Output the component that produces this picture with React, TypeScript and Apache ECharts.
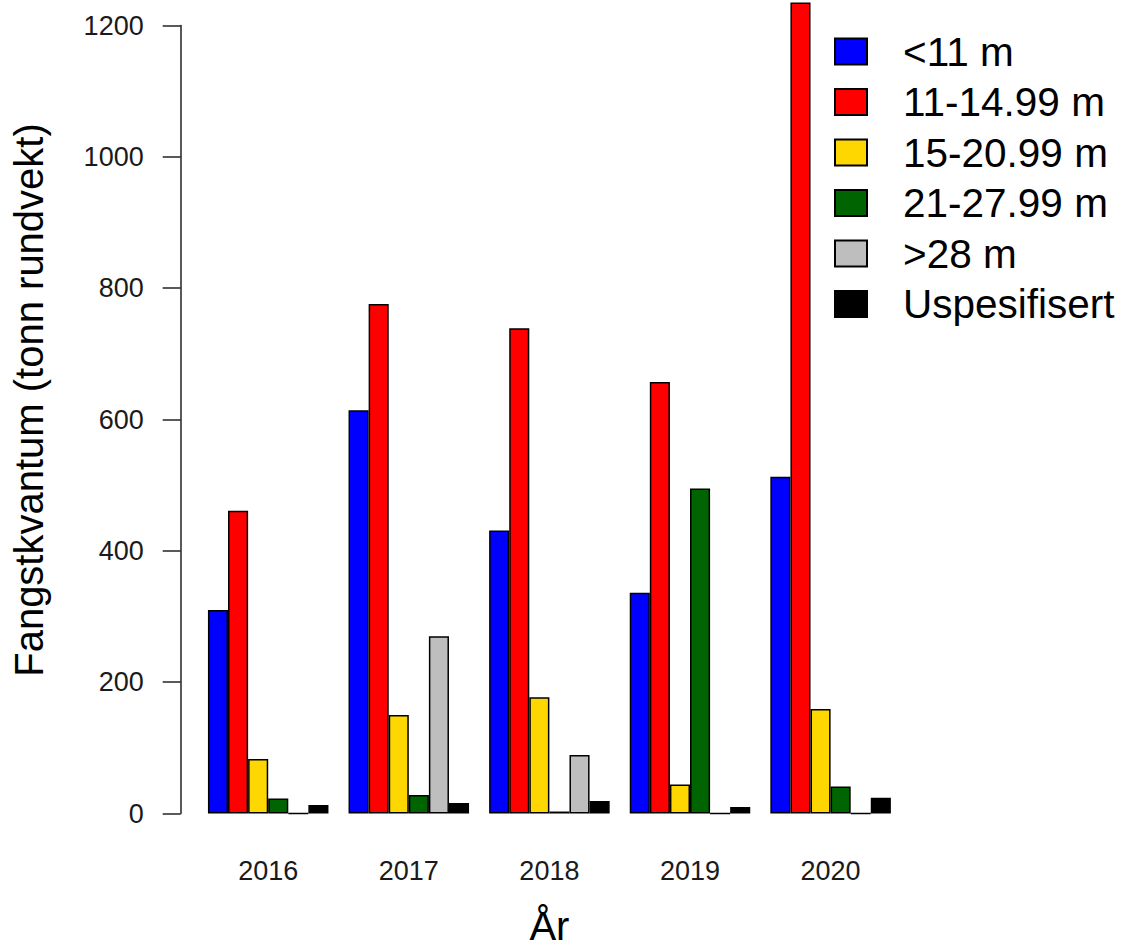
import React, { useEffect, useRef } from "react";
import * as echarts from "echarts";

const years = ["2016", "2017", "2018", "2019", "2020"];
const seriesNames = ["<11 m", "11-14.99 m", "15-20.99 m", "21-27.99 m", ">28 m", "Uspesifisert"];
const under11 = [310, 614, 431, 336, 513];
const m11to15 = [461, 776, 739, 657, 1235];
const m15to21 = [83, 150, 177, 44, 159];
const m21to28 = [23, 28, 3, 495, 41];
const over28 = [0, 270, 89, 0, 0];
const unspecified = [13, 16, 19, 10, 24];
const colors = ["#0000FF", "#FF0000", "#FFD700", "#006400", "#BEBEBE", "#000000"];
const yTicks = [0, 200, 400, 600, 800, 1000, 1200];

const FONT = "'Liberation Sans', Arial, sans-serif";

export default function App() {
  const ref = useRef<HTMLDivElement>(null);
  useEffect(() => {
    if (!ref.current) return;
    const chart = echarts.init(ref.current, undefined, { renderer: "svg" });
    const values = [under11, m11to15, m15to21, m21to28, over28, unspecified];
    chart.setOption({
      animation: false,
      backgroundColor: "#ffffff",
      textStyle: { fontFamily: FONT },
      grid: {
        left: 197.9,
        right: 220.1,
        top: 25.5,
        bottom: 133.5,
        containLabel: false,
        outerBoundsMode: "none",
      },
      legend: {
        orient: "vertical",
        left: 834,
        top: 31,
        padding: 0,
        itemWidth: 32,
        itemHeight: 26,
        itemGap: 9.5,
        icon: "rect",
        selectedMode: false,
        textStyle: {
          fontFamily: FONT,
          fontSize: 40.5,
          lineHeight: 40,
          color: "#000000",
          padding: [0, 0, 0, 31],
        },
        data: seriesNames,
      },
      xAxis: {
        type: "category",
        data: years,
        axisLine: { show: false },
        axisTick: { show: false },
        axisLabel: {
          fontFamily: FONT,
          fontSize: 27,
          color: "#1a1a1a",
          margin: 57.5,
          verticalAlign: "middle",
        },
        name: "År",
        nameLocation: "middle",
        nameGap: 112,
        nameTextStyle: {
          fontFamily: FONT,
          fontSize: 40,
          lineHeight: 40,
          color: "#000000",
          verticalAlign: "middle",
        },
      },
      yAxis: {
        type: "value",
        min: yTicks[0],
        max: yTicks[yTicks.length - 1],
        interval: 200,
        offset: 17.2,
        axisLine: { show: true, lineStyle: { color: "#222222", width: 1.5 } },
        axisTick: { show: true, length: 18, lineStyle: { color: "#222222", width: 1.5 } },
        splitLine: { show: false },
        axisLabel: {
          fontFamily: FONT,
          fontSize: 27,
          color: "#1a1a1a",
          margin: 37,
          formatter: (v: number) => String(v),
        },
      },
      graphic: [
        {
          type: "text",
          x: 29,
          y: 400,
          rotation: Math.PI / 2,
          style: {
            text: "Fangstkvantum (tonn rundvekt)",
            fontFamily: FONT,
            fontSize: 40,
            fill: "#000000",
            align: "center",
            verticalAlign: "middle",
          },
        },
      ],
      series: seriesNames.map((name, i) => ({
        name,
        type: "bar",
        data: values[i],
        barGap: "0%",
        barCategoryGap: "14.2857%",
        clip: false,
        itemStyle: { color: colors[i], borderColor: "#000000", borderWidth: 1.5 },
        emphasis: { disabled: true },
      })),
    });
    return () => chart.dispose();
  }, []);
  return (
    <div
      ref={ref}
      style={{ position: "fixed", left: 0, top: 0, width: 1121, height: 947, background: "#fff" }}
    />
  );
}
